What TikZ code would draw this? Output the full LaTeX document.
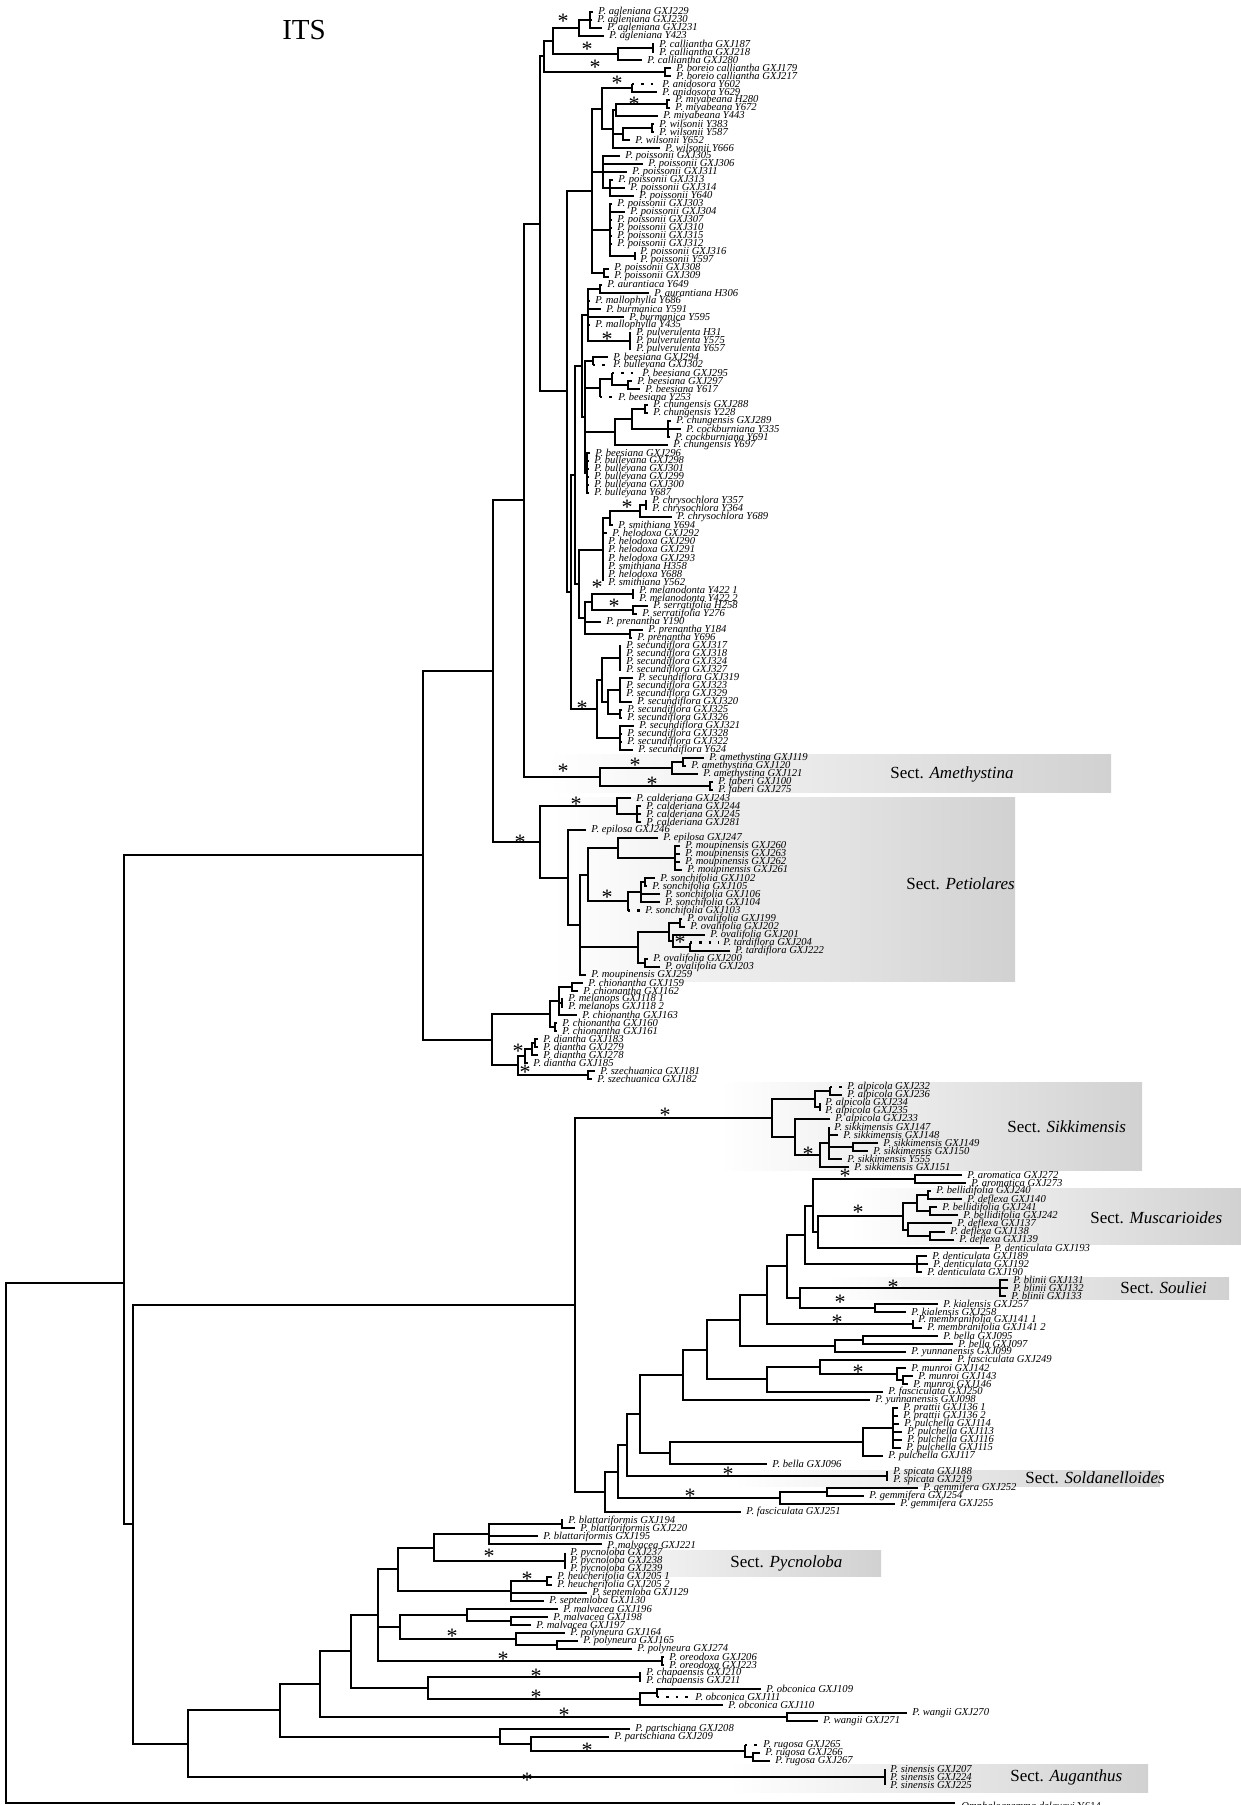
\documentclass[tikz,border=0pt]{standalone}
\usepackage{fontspec}
\setmainfont{Liberation Serif}
\tikzset{
 br/.style={line width=1pt},
 dotbr/.style={line width=1.2pt, dash pattern=on 1.2pt off 3.5pt},
 lbl/.style={anchor=west, inner sep=0pt, font=\fontsize{5.3}{6}\selectfont\itshape},
 sect/.style={anchor=west, inner sep=0pt, font=\fontsize{8.5}{10}\selectfont},
 star/.style={inner sep=0pt, font=\fontsize{11}{12}\selectfont, yshift=-2pt},
 sbox/.style={left color=white, right color=black!18, draw=none}
}
\newcommand\Lf[3]{%
  \pgfmathsetmacro\lfY{3.675+#1*8.025}%
  \pgfmathsetmacro\lfX{#2-5}%
  \expandafter\xdef\csname tyyL#1\endcsname{\lfY}%
  \coordinate (L#1) at (\lfX,\lfY);
  \node[lbl] (T#1) at (#2,\lfY) {#3};}
\newcommand\Ld[4]{%
  \pgfmathsetmacro\lfY{3.675+#1*8.025}%
  \pgfmathsetmacro\lfX{#3-4}%
  \expandafter\xdef\csname tyyL#1\endcsname{\lfY}%
  \coordinate (L#1) at (#2,\lfY);
  \node[lbl] (T#1) at (#3,\lfY) {#4};
  \draw[dotbr] (L#1) -- (\lfX,\lfY);}
\newcommand\ClY[4]{%
  \expandafter\xdef\csname tyy#1\endcsname{#3}%
  \coordinate (#1) at (#2,#3);
  \foreach \chd in {#4}{\draw[br] (\chd) -| (#1);}}
\newcommand\Cl[3]{%
  \gdef\cmin{9999}\gdef\cmax{-9999}%
  \foreach \chd in {#3}{%
    \edef\chy{\csname tyy\chd\endcsname}%
    \pgfmathsetmacro\tmpv{min(\cmin,\chy)}\xdef\cmin{\tmpv}%
    \pgfmathsetmacro\tmpv{max(\cmax,\chy)}\xdef\cmax{\tmpv}}%
  \pgfmathsetmacro\tmpv{(\cmin+\cmax)/2}%
  \ClY{#1}{#2}{\tmpv}{#3}}
\begin{document}
\begin{tikzpicture}[x=0.5pt,y=-0.5pt]
\fill[white] (0,0) rectangle (1241,1805);
\useasboundingbox (0,0) rectangle (1241,1805);
% section boxes
\shade[sbox] (547,754) rectangle (1111,792);
\shade[sbox] (553,797) rectangle (1015,981);
\shade[sbox] (720,1082) rectangle (1142,1170);
\shade[sbox] (850,1188) rectangle (1241,1244);
\shade[sbox] (827,1277) rectangle (1229,1299);
\shade[sbox] (733,1470) rectangle (1160,1486);
\shade[sbox] (563,1550) rectangle (881,1576);
\shade[sbox] (729,1764) rectangle (1148,1792);
\node[sect] (s1) at (890,774) {Sect. \textit{Amethystina}};
\node[sect] (s2) at (906,884) {Sect. \textit{Petiolares}};
\node[sect] (s3) at (1007,1127) {Sect. \textit{Sikkimensis}};
\node[sect] (s4) at (1090,1218) {Sect. \textit{Muscarioides}};
\node[sect] (s5) at (1120,1288) {Sect. \textit{Souliei}};
\node[sect] (s6) at (1025,1478) {Sect. \textit{Soldanelloides}};
\node[sect] (s7) at (730,1563) {Sect. \textit{Pycnoloba}};
\node[sect] (s8) at (1010,1777) {Sect. \textit{Auganthus}};
\node[font=\fontsize{14.5}{16}\selectfont] (title) at (304,30) {ITS};
% ---------- leaves upper ----------
\Lf{1}{598}{P. agleniana GXJ229}
\Lf{2}{597}{P. agleniana GXJ230}
\Lf{3}{607}{P. agleniana GXJ231}
\Lf{4}{609}{P. agleniana Y423}
\Lf{5}{659}{P. calliantha GXJ187}
\Lf{6}{659}{P. calliantha GXJ218}
\Lf{7}{647}{P. calliantha GXJ280}
\Lf{8}{676}{P. boreio calliantha GXJ179}
\Lf{9}{676}{P. boreio calliantha GXJ217}
\Ld{10}{632}{662}{P. anidosora Y602}
\Lf{11}{662}{P. anidosora Y629}
\Lf{12}{675}{P. miyabeana H280}
\Lf{13}{675}{P. miyabeana Y672}
\Lf{14}{663}{P. miyabeana Y443}
\Lf{15}{659}{P. wilsonii Y383}
\Lf{16}{659}{P. wilsonii Y587}
\Lf{17}{635}{P. wilsonii Y652}
\Lf{18}{665}{P. wilsonii Y666}
\Lf{19}{625}{P. poissonii GXJ305}
\Lf{20}{648}{P. poissonii GXJ306}
\Lf{21}{632}{P. poissonii GXJ311}
\Lf{22}{618}{P. poissonii GXJ313}
\Lf{23}{630}{P. poissonii GXJ314}
\Lf{24}{639}{P. poissonii Y640}
\Lf{25}{617}{P. poissonii GXJ303}
\Lf{26}{630}{P. poissonii GXJ304}
\Lf{27}{617}{P. poissonii GXJ307}
\Lf{28}{617}{P. poissonii GXJ310}
\Lf{29}{617}{P. poissonii GXJ315}
\Lf{30}{617}{P. poissonii GXJ312}
\Lf{31}{640}{P. poissonii GXJ316}
\Lf{32}{640}{P. poissonii Y597}
\Lf{33}{614}{P. poissonii GXJ308}
\Lf{34}{614}{P. poissonii GXJ309}
\Lf{35}{607}{P. aurantiaca Y649}
\Lf{36}{654}{P. aurantiana H306}
\Lf{37}{595}{P. mallophylla Y686}
\Lf{38}{606}{P. burmanica Y591}
\Lf{39}{629}{P. burmanica Y595}
\Lf{40}{595}{P. mallophylla Y435}
\Lf{41}{636}{P. pulverulenta H31}
\Lf{42}{636}{P. pulverulenta Y575}
\Lf{43}{636}{P. pulverulenta Y657}
\Lf{44}{613}{P. beesiana GXJ294}
\Ld{45}{593}{613}{P. bulleyana GXJ302}
\Ld{46}{612}{642}{P. beesiana GXJ295}
\Lf{47}{637}{P. beesiana GXJ297}
\Lf{48}{645}{P. beesiana Y617}
\Ld{49}{600}{618}{P. beesiana Y253}
\Lf{50}{653}{P. chungensis GXJ288}
\Lf{51}{653}{P. chungensis Y228}
\Lf{52}{676}{P. chungensis GXJ289}
\Lf{53}{686}{P. cockburniana Y335}
\Lf{54}{675}{P. cockburniana Y691}
\Lf{55}{673}{P. chungensis Y697}
\Lf{56}{595}{P. beesiana GXJ296}
\Lf{57}{594}{P. bulleyana GXJ298}
\Lf{58}{594}{P. bulleyana GXJ301}
\Lf{59}{594}{P. bulleyana GXJ299}
\Lf{60}{594}{P. bulleyana GXJ300}
\Lf{61}{594}{P. bulleyana Y687}
\Lf{62}{652}{P. chrysochlora Y357}
\Lf{63}{652}{P. chrysochlora Y364}
\Lf{64}{677}{P. chrysochlora Y689}
\Lf{65}{618}{P. smithiana Y694}
\Lf{66}{612}{P. helodoxa GXJ292}
\Lf{67}{608}{P. helodoxa GXJ290}
\Lf{68}{608}{P. helodoxa GXJ291}
\Lf{69}{608}{P. helodoxa GXJ293}
\Lf{70}{608}{P. smithiana H358}
\Lf{71}{608}{P. helodoxa Y688}
\Lf{72}{608}{P. smithiana Y562}
\Lf{73}{639}{P. melanodonta Y422 1}
\Lf{74}{639}{P. melanodonta Y422 2}
\Lf{75}{653}{P. serratifolia H258}
\Lf{76}{642}{P. serratifolia Y276}
\Lf{77}{606}{P. prenantha Y190}
\Lf{78}{648}{P. prenantha Y184}
\Lf{79}{637}{P. prenantha Y696}
\Lf{80}{626}{P. secundiflora GXJ317}
\Lf{81}{626}{P. secundiflora GXJ318}
\Lf{82}{626}{P. secundiflora GXJ324}
\Lf{83}{626}{P. secundiflora GXJ327}
\Lf{84}{638}{P. secundiflora GXJ319}
\Lf{85}{626}{P. secundiflora GXJ323}
\Lf{86}{626}{P. secundiflora GXJ329}
\Lf{87}{637}{P. secundiflora GXJ320}
\Lf{88}{627}{P. secundiflora GXJ325}
\Lf{89}{627}{P. secundiflora GXJ326}
\Lf{90}{639}{P. secundiflora GXJ321}
\Lf{91}{627}{P. secundiflora GXJ328}
\Lf{92}{627}{P. secundiflora GXJ322}
\Lf{93}{638}{P. secundiflora Y624}
\Lf{94}{709}{P. amethystina GXJ119}
\Lf{95}{691}{P. amethystina GXJ120}
\Lf{96}{703}{P. amethystina GXJ121}
\Lf{97}{718}{P. faberi GXJ100}
\Lf{98}{718}{P. faberi GXJ275}
\Lf{99}{636}{P. calderiana GXJ243}
\Lf{100}{646}{P. calderiana GXJ244}
\Lf{101}{646}{P. calderiana GXJ245}
\Lf{102}{646}{P. calderiana GXJ281}
\Lf{103}{591}{P. epilosa GXJ246}
\Lf{104}{663}{P. epilosa GXJ247}
\Lf{105}{685}{P. moupinensis GXJ260}
\Lf{106}{685}{P. moupinensis GXJ263}
\Lf{107}{685}{P. moupinensis GXJ262}
\Lf{108}{687}{P. moupinensis GXJ261}
\Lf{109}{660}{P. sonchifolia GXJ102}
\Lf{110}{652}{P. sonchifolia GXJ105}
\Lf{111}{665}{P. sonchifolia GXJ106}
\Lf{112}{665}{P. sonchifolia GXJ104}
\Ld{113}{628}{645}{P. sonchifolia GXJ103}
\Lf{114}{687}{P. ovalifolia GXJ199}
\Lf{115}{690}{P. ovalifolia GXJ202}
\Lf{116}{710}{P. ovalifolia GXJ201}
\Ld{117}{690}{723}{P. tardiflora GXJ204}
\Lf{118}{735}{P. tardiflora GXJ222}
\Lf{119}{653}{P. ovalifolia GXJ200}
\Lf{120}{665}{P. ovalifolia GXJ203}
\Lf{121}{591}{P. moupinensis GXJ259}
\Lf{122}{588}{P. chionantha GXJ159}
\Lf{123}{583}{P. chionantha GXJ162}
\Lf{124}{568}{P. melanops GXJ118 1}
\Lf{125}{568}{P. melanops GXJ118 2}
\Lf{126}{582}{P. chionantha GXJ163}
\Lf{127}{562}{P. chionantha GXJ160}
\Lf{128}{562}{P. chionantha GXJ161}
\Lf{129}{543}{P. diantha GXJ183}
\Lf{130}{543}{P. diantha GXJ279}
\Lf{131}{543}{P. diantha GXJ278}
\Lf{132}{533}{P. diantha GXJ185}
\Lf{133}{600}{P. szechuanica GXJ181}
\Lf{134}{597}{P. szechuanica GXJ182}
% ---------- upper clades ----------
\Cl{AG1}{590}{L1,L2,L3}
\Cl{AG}{579}{AG1,L4}
\Cl{CA1}{653}{L5,L6}
\Cl{CA}{618}{CA1,L7}
\Cl{AC}{553}{AG,CA}
\Cl{BO}{665}{L8,L9}
\Cl{TG}{544}{AC,BO}
\Cl{AN}{632}{L10,L11}
\Cl{MI1}{667}{L12,L13}
\Cl{MI}{616}{MI1,L14}
\Cl{WI1}{652}{L15,L16}
\Cl{WI}{623}{WI1,L17}
\Cl{MW}{613}{MI,WI,L18}
\Cl{AW}{602}{AN,MW}
\Cl{PO1b}{610}{L22,L23,L24}
\Cl{PO1a}{603}{L19,L20,L21,PO1b}
\Cl{PO2a}{635}{L31,L32}
\Cl{PO2}{610}{L25,L26,L27,L28,L29,L30,PO2a}
\Cl{PO3}{604}{L33,L34}
\Cl{Q1}{592}{AW,PO1a,PO2,PO3}
\Cl{AU}{600}{L35,L36}
\Cl{PU}{630}{L41,L42,L43}
\Cl{MB}{588}{AU,L37,L38,L39,L40,PU}
\Cl{BB}{593}{L44,L45}
\Cl{BE2}{628}{L47,L48}
\Cl{BE1}{612}{L46,BE2}
\Cl{BE}{600}{BE1,L49}
\Cl{CG1}{645}{L50,L51}
\Cl{CC3}{668}{L52,L53,L54}
\Cl{CC1}{632}{CG1,CC3}
\Cl{CC}{615}{CC1,L55}
\Cl{BU}{587}{L56,L57,L58,L59,L60,L61}
\Cl{G1b}{585}{BB,BE,CC,BU}
\Cl{G1}{582}{MB,G1b}
\Cl{CR1}{646}{L62,L63}
\Cl{CR}{640}{CR1,L64}
\Cl{CS1}{610}{CR,L65}
\Cl{CS}{603}{CS1,L66,L67,L68,L69,L70,L71,L72}
\Cl{ME}{633}{L73,L74}
\Cl{SR}{633}{L75,L76}
\Cl{MS}{592}{ME,SR}
\Cl{PR}{630}{L78,L79}
\Cl{MP}{585}{MS,L77,PR}
\Cl{CSMP}{579}{CS,MP}
\Cl{X}{575}{G1,CSMP}
\Cl{SCa}{620}{L80,L81,L82,L83}
\Cl{SCb}{620}{L84,L85,L86,L87}
\Cl{SCc}{620}{L88,L89}
\Cl{SCd}{620}{L90,L91,L92,L93}
\Cl{SCbc}{608}{SCb,SCc}
\Cl{SC1}{602}{SCa,SCbc}
\Cl{SEC}{597}{SC1,SCd}
\Cl{Q2}{571}{X,SEC}
\Cl{Q}{567}{Q1,Q2}
\Cl{P}{540}{TG,Q}
\Cl{AM2}{683}{L94,L95}
\Cl{AM1}{672}{AM2,L96}
\Cl{FA}{710}{L97,L98}
\Cl{AM}{600}{AM1,FA}
\Cl{R}{524}{P,AM}
\Cl{CAL1}{637}{L100,L101,L102}
\Cl{CAL}{617}{L99,CAL1}
\Cl{MO}{675}{L105,L106,L107,L108}
\Cl{EM}{618}{L104,MO}
\Cl{SO2}{645}{L109,L110}
\Cl{SO1}{641}{SO2,L111,L112}
\Cl{SO}{628}{SO1,L113}
\Cl{PE4}{588}{EM,SO}
\Cl{OV1a}{680}{L114,L115}
\Cl{OV1c}{690}{L117,L118}
\Cl{OV1b}{673}{L116,OV1c}
\Cl{OV1}{669}{OV1a,OV1b}
\Cl{OV2}{645}{L119,L120}
\Cl{OV}{638}{OV1,OV2}
\Cl{PE3}{580}{PE4,OV,L121}
\Cl{PE2}{568}{L103,PE3}
\Cl{Pet}{540}{CAL,PE2}
\Cl{A}{493}{R,Pet}
\Cl{CH1a}{572}{L122,L123}
\Cl{ML}{562}{L124,L125}
\Cl{CH1}{559}{CH1a,ML,L126}
\Cl{CH2}{555}{L127,L128}
\Cl{CH}{550}{CH1,CH2}
\Cl{DI2}{535}{L129,L130}
\Cl{DI1}{532}{DI2,L131}
\Cl{DI}{525}{DI1,L132}
\Cl{SZ}{588}{L133,L134}
\Cl{DS}{518}{DI,SZ}
\Cl{CD}{492}{CH,DS}
\Cl{U}{423}{A,CD}
% ---------- leaves lower ----------
\Ld{135}{830}{847}{P. alpicola GXJ232}
\Lf{136}{847}{P. alpicola GXJ236}
\Lf{137}{825}{P. alpicola GXJ234}
\Lf{138}{825}{P. alpicola GXJ235}
\Lf{139}{835}{P. alpicola GXJ233}
\Lf{140}{834}{P. sikkimensis GXJ147}
\Lf{141}{843}{P. sikkimensis GXJ148}
\Lf{142}{883}{P. sikkimensis GXJ149}
\Lf{143}{873}{P. sikkimensis GXJ150}
\Lf{144}{847}{P. sikkimensis Y555}
\Lf{145}{854}{P. sikkimensis GXJ151}
\Lf{146}{967}{P. aromatica GXJ272}
\Lf{147}{971}{P. aromatica GXJ273}
\Lf{148}{936}{P. bellidifolia GXJ240}
\Lf{149}{967}{P. deflexa GXJ140}
\Lf{150}{942}{P. bellidifolia GXJ241}
\Lf{151}{963}{P. bellidifolia GXJ242}
\Lf{152}{957}{P. deflexa GXJ137}
\Lf{153}{950}{P. deflexa GXJ138}
\Lf{154}{959}{P. deflexa GXJ139}
\Lf{155}{994}{P. denticulata GXJ193}
\Lf{156}{932}{P. denticulata GXJ189}
\Lf{157}{933}{P. denticulata GXJ192}
\Lf{158}{927}{P. denticulata GXJ190}
\Lf{159}{1013}{P. blinii GXJ131}
\Lf{160}{1013}{P. blinii GXJ132}
\Lf{161}{1011}{P. blinii GXJ133}
\Lf{162}{943}{P. kialensis GXJ257}
\Lf{163}{911}{P. kialensis GXJ258}
\Lf{164}{918}{P. membranifolia GXJ141 1}
\Lf{165}{927}{P. membranifolia GXJ141 2}
\Lf{166}{943}{P. bella GXJ095}
\Lf{167}{958}{P. bella GXJ097}
\Lf{168}{911}{P. yunnanensis GXJ099}
\Lf{169}{957}{P. fasciculata GXJ249}
\Lf{170}{911}{P. munroi GXJ142}
\Lf{171}{918}{P. munroi GXJ143}
\Lf{172}{913}{P. munroi GXJ146}
\Lf{173}{888}{P. fasciculata GXJ250}
\Lf{174}{875}{P. yunnanensis GXJ098}
\Lf{175}{903}{P. prattii GXJ136 1}
\Lf{176}{903}{P. prattii GXJ136 2}
\Lf{177}{904}{P. pulchella GXJ114}
\Lf{178}{907}{P. pulchella GXJ113}
\Lf{179}{907}{P. pulchella GXJ116}
\Lf{180}{906}{P. pulchella GXJ115}
\Lf{181}{888}{P. pulchella GXJ117}
\Lf{182}{772}{P. bella GXJ096}
\Lf{183}{893}{P. spicata GXJ188}
\Lf{184}{893}{P. spicata GXJ219}
\Lf{185}{923}{P. gemmifera GXJ252}
\Lf{186}{869}{P. gemmifera GXJ254}
\Lf{187}{900}{P. gemmifera GXJ255}
\Lf{188}{746}{P. fasciculata GXJ251}
\Lf{189}{568}{P. blattariformis GXJ194}
\Lf{190}{580}{P. blattariformis GXJ220}
\Lf{191}{543}{P. blattariformis GXJ195}
\Lf{192}{607}{P. malvacea GXJ221}
\Lf{193}{570}{P. pycnoloba GXJ237}
\Lf{194}{570}{P. pycnoloba GXJ238}
\Lf{195}{570}{P. pycnoloba GXJ239}
\Lf{196}{557}{P. heucherifolia GXJ205 1}
\Lf{197}{557}{P. heucherifolia GXJ205 2}
\Lf{198}{592}{P. septemloba GXJ129}
\Lf{199}{549}{P. septemloba GXJ130}
\Lf{200}{563}{P. malvacea GXJ196}
\Lf{201}{553}{P. malvacea GXJ198}
\Lf{202}{536}{P. malvacea GXJ197}
\Lf{203}{570}{P. polyneura GXJ164}
\Lf{204}{583}{P. polyneura GXJ165}
\Lf{205}{637}{P. polyneura GXJ274}
\Lf{206}{669}{P. oreodoxa GXJ206}
\Lf{207}{669}{P. oreodoxa GXJ223}
\Lf{208}{646}{P. chapaensis GXJ210}
\Lf{209}{646}{P. chapaensis GXJ211}
\Lf{210}{766}{P. obconica GXJ109}
\Ld{211}{657}{695}{P. obconica GXJ111}
\Lf{212}{728}{P. obconica GXJ110}
\Lf{213}{912}{P. wangii GXJ270}
\Lf{214}{823}{P. wangii GXJ271}
\Lf{215}{635}{P. partschiana GXJ208}
\Lf{216}{614}{P. partschiana GXJ209}
\Ld{217}{745}{763}{P. rugosa GXJ265}
\Lf{218}{765}{P. rugosa GXJ266}
\Lf{219}{775}{P. rugosa GXJ267}
\Lf{220}{890}{P. sinensis GXJ207}
\Lf{221}{890}{P. sinensis GXJ224}
\Lf{222}{890}{P. sinensis GXJ225}
\expandafter\xdef\csname tyyOG\endcsname{1803}
\coordinate (OG) at (955,1803);
\node[lbl,font=\fontsize{5.3}{6}\selectfont] (TOG) at (961,1807) {\textit{Omphalogramma delavayi} Y614};
% ---------- lower clades ----------
\Cl{AL1}{830}{L135,L136}
\Cl{AL2}{820}{L137,L138}
\Cl{AL}{815}{AL1,AL2}
\Cl{SK5}{853}{L142,L143}
\Cl{SK4}{829}{L140,L141,SK5,L144}
\Cl{SK3}{820}{SK4,L145}
\Cl{SK2}{795}{L139,SK3}
\Cl{SIK}{772}{AL,SK2}
\Cl{AR}{915}{L146,L147}
\Cl{MU1a}{928}{L148,L149}
\Cl{MU1b}{930}{L150,L151}
\Cl{MU1}{917}{MU1a,MU1b}
\Cl{MU2a}{930}{L153,L154}
\Cl{MU2}{908}{L152,MU2a}
\Cl{MU}{903}{MU1,MU2}
\Cl{M1}{818}{MU,L155}
\Cl{M2}{813}{AR,M1}
\Cl{DE}{917}{L156,L157,L158}
\Cl{M3}{805}{M2,DE}
\Cl{BL}{1000}{L159,L160,L161}
\Cl{KI}{875}{L162,L163}
\Cl{SKI}{800}{BL,KI}
\Cl{M4}{787}{M3,SKI}
\Cl{MEM}{913}{L164,L165}
\Cl{XX}{767}{M4,MEM}
\Cl{BEL1}{863}{L166,L167}
\Cl{BY}{835}{BEL1,L168}
\Cl{MN1}{903}{L171,L172}
\Cl{MN}{897}{L170,MN1}
\Cl{FM}{820}{L169,MN}
\Cl{FM2}{767}{FM,L173}
\Cl{PP1}{893}{L175,L176,L177,L178,L179,L180}
\Cl{PP}{863}{PP1,L181}
\Cl{PB}{670}{PP,L182}
\Cl{N1}{740}{XX,BY}
\Cl{N2}{707}{N1,FM2}
\Cl{N3}{683}{N2,L174}
\Cl{X4}{640}{N3,PB}
\Cl{SP}{887}{L183,L184}
\Cl{F2}{627}{X4,SP}
\Cl{GE1}{827}{L185,L186}
\Cl{GE}{780}{GE1,L187}
\Cl{F1}{618}{F2,GE}
\Cl{F}{605}{F1,L188}
\Cl{SMX}{575}{SIK,F}
\Cl{BL2}{562}{L189,L190}
\Cl{BL1}{489}{BL2,L191,L192}
\Cl{PY}{565}{L193,L194,L195}
\Cl{BM}{434}{BL1,PY}
\Cl{HE}{547}{L196,L197}
\Cl{HS}{511}{HE,L198,L199}
\Cl{BN}{398}{BM,HS}
\Cl{MA1}{511}{L201,L202}
\Cl{MA}{467}{L200,MA1}
\Cl{PN1}{557}{L204,L205}
\Cl{PN}{516}{L203,PN1}
\Cl{MP2}{400}{MA,PN}
\Cl{OR}{662}{L206,L207}
\Cl{BP4}{378}{BN,MP2,OR}
\Cl{CP}{640}{L208,L209}
\Cl{OB1}{657}{L210,L211}
\Cl{OB}{640}{OB1,L212}
\Cl{CO}{428}{CP,OB}
\Cl{BP3}{351}{BP4,CO}
\Cl{WA}{787}{L213,L214}
\Cl{BP2}{320}{BP3,WA}
\Cl{RU1}{753}{L218,L219}
\Cl{RU}{745}{L217,RU1}
\Cl{PA2}{531}{L216,RU}
\Cl{PA}{500}{L215,PA2}
\Cl{BP1}{280}{BP2,PA}
\Cl{AUG}{885}{L220,L221,L222}
\Cl{BP}{188}{BP1,AUG}
\Cl{LB}{133}{SMX,BP}
\ClY{N124}{124}{1283}{U,LB}
\Cl{ROOT}{6}{N124,OG}
% ---------- support stars ----------
\foreach \sx/\sy [count=\k] in {563/17,587/45,595/63,617/79,634/100,607/335,627/503,597/583,614/602,582/704,635/761,563/767,652/780,576/800,520/838,607/893,680/938,518/1047,525/1068,665/1111,808/1150,845/1172,858/1208,893/1283,840/1298,837/1318,858/1368,728/1470,690/1492,489/1552,527/1575,452/1632,503/1655,536/1672,536/1693,564/1711,587/1746,527/1776}
  \node[star] (st\k) at (\sx,\sy) {*};
\end{tikzpicture}
\end{document}
